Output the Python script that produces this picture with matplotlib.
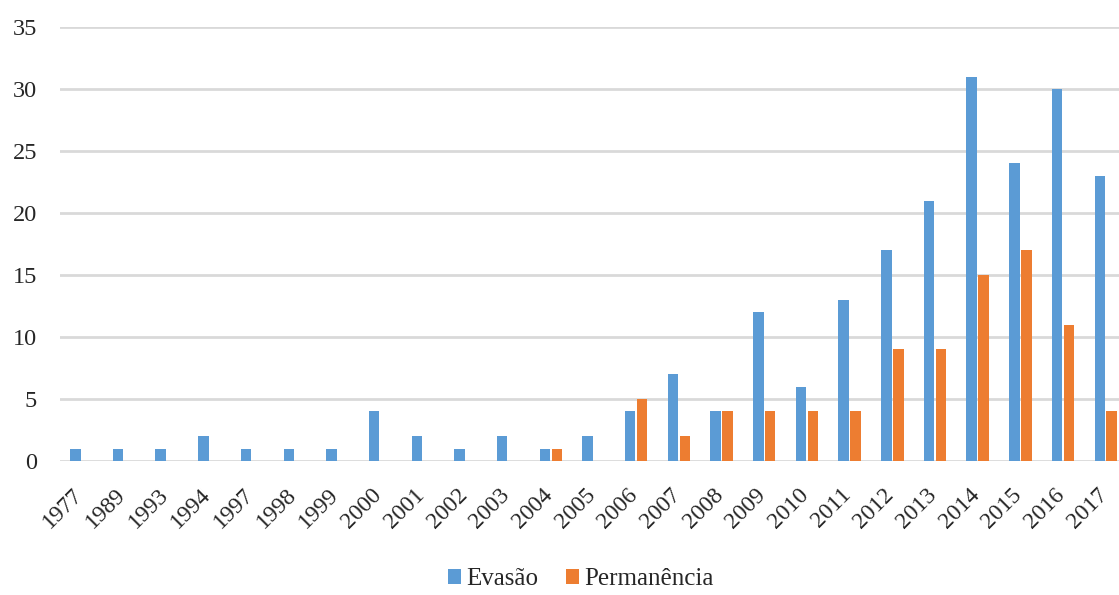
import matplotlib.pyplot as plt
import matplotlib.transforms as mtransforms
import numpy as np

plt.rcParams['font.family'] = ['Liberation Serif', 'DejaVu Serif']

# years and counts
years = ['1977', '1989', '1993', '1994', '1997', '1998', '1999', '2000', '2001',
         '2002', '2003', '2004', '2005', '2006', '2007', '2008', '2009', '2010',
         '2011', '2012', '2013', '2014', '2015', '2016', '2017']
evasao = [1, 1, 1, 2, 1, 1, 1, 4, 2, 1, 2, 1, 2, 4, 7, 4, 12, 6, 13, 17, 21, 31, 24, 30, 23]
permanencia = [0, 0, 0, 0, 0, 0, 0, 0, 0, 0, 0, 1, 0, 5, 2, 4, 4, 4, 4, 9, 9, 15, 17, 11, 4]

fig = plt.figure(figsize=(11.19, 5.95), dpi=100)
# plot area runs a bit past the right edge, like in the original crop
ax = fig.add_axes([0.0536, 0.2252, 0.9536, 0.7294])

x = np.arange(len(years))
w = 0.245
ax.bar(x - 0.14, evasao, w, color='#5B9BD5', label='Evasão', zorder=2)
ax.bar(x + 0.14, permanencia, w, color='#ED7D31', label='Permanência', zorder=2)

ax.set_xlim(-0.5, len(years) - 0.5)
ax.set_ylim(0, 35)
ax.set_yticks(range(0, 36, 5))
ax.yaxis.grid(True, color='#D9D9D9', linewidth=2, zorder=0)
ax.set_axisbelow(True)
for s in ax.spines.values():
    s.set_visible(False)

ax.set_xticks(x)
ax.set_xticklabels(years, rotation=45, ha='right', va='top', rotation_mode='anchor')
ax.tick_params(axis='both', length=0, colors='#262626')
ax.tick_params(axis='y', pad=16.5, labelsize=17.5)
ax.tick_params(axis='x', pad=8, labelsize=17)

# nudge the rotated year labels so they sit like in the original
offset = mtransforms.ScaledTranslation(-9 / 100, -12 / 100, fig.dpi_scale_trans)
for lab in ax.get_xticklabels():
    lab.set_transform(lab.get_transform() + offset)

fig.legend(loc='lower center', bbox_to_anchor=(0.519, -0.03), ncol=2,
           frameon=False, fontsize=18, handlelength=0.52, handleheight=0.52,
           handletextpad=0.2, columnspacing=1.1, labelcolor='#262626')

fig.savefig('out.png', dpi=100)
